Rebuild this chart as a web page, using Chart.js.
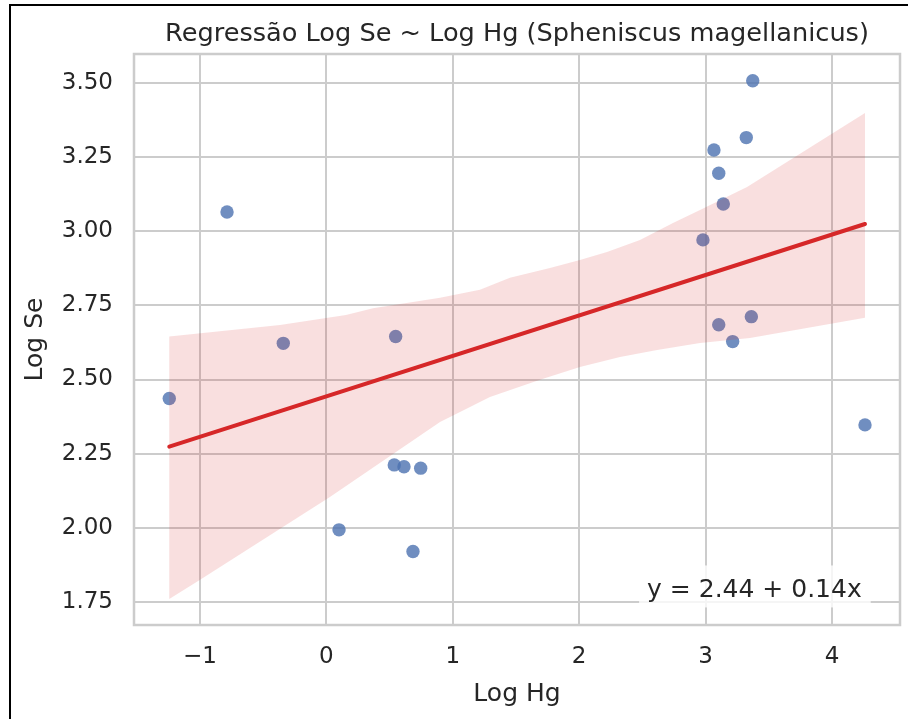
<!DOCTYPE html>
<html>
<head>
<meta charset="utf-8">
<script src="https://cdn.jsdelivr.net/npm/chart.js@4/dist/chart.umd.min.js"></script>
<style>
html,body{margin:0;padding:0;background:#fff;}
#wrap{position:relative;width:908px;height:719px;overflow:hidden;background:#fff;}
#c{position:absolute;left:0;top:0;}
#frame{position:absolute;left:9px;top:4px;width:1000px;height:1000px;border-top:2px solid #000;border-left:2px solid #000;pointer-events:none;}
</style>
</head>
<body>
<div id="wrap"><canvas id="c" width="908" height="719"></canvas><div id="frame"></div></div>
<script>
// ---- data ----
const logHg = [3.373, 3.322, 3.066, 3.104, 3.140, 2.979, 3.362, 3.104, 3.214, 4.261,
               -0.786, -0.341, 0.548, -1.243, 0.537, 0.614, 0.746, 0.100, 0.685];
const logSe = [3.508, 3.316, 3.274, 3.196, 3.092, 2.971, 2.712, 2.685, 2.628, 2.347,
               3.065, 2.622, 2.645, 2.436, 2.212, 2.206, 2.201, 1.993, 1.920];

// confidence band edges (bootstrap CI as drawn)
const bandUpperX = [-1.243, -0.367, 0.155, 0.369, 0.899, 1.215, 1.452, 1.769, 2.006, 2.220, 2.481, 2.742, 2.956, 3.328, 4.261];
const bandUpperY = [2.645, 2.684, 2.718, 2.740, 2.776, 2.803, 2.843, 2.876, 2.903, 2.930, 2.971, 3.028, 3.072, 3.149, 3.399];
const bandLowerX = [-1.243, -1.002, 0.028, 0.899, 1.294, 1.690, 2.006, 2.323, 2.616, 2.956, 3.351, 4.261];
const bandLowerY = [1.760, 1.824, 2.104, 2.357, 2.441, 2.499, 2.542, 2.576, 2.600, 2.623, 2.640, 2.708];

const xTicks = [-1, 0, 1, 2, 3, 4];
const xTickLabels = ['\u22121', '0', '1', '2', '3', '4'];
const yTicks = [1.75, 2.00, 2.25, 2.50, 2.75, 3.00, 3.25, 3.50];
const yTickLabels = ['1.75', '2.00', '2.25', '2.50', '2.75', '3.00', '3.25', '3.50'];
const xRange = [-1.522, 4.538];
const yRange = [1.672, 3.598];

const titleText = 'Regress\u00e3o Log Se ~ Log Hg (Spheniscus magellanicus)';
const xLabel = 'Log Hg';
const yLabel = 'Log Se';

// ---- ordinary least squares fit from the points ----
const n = logHg.length;
const mx = logHg.reduce((a, b) => a + b, 0) / n;
const my = logSe.reduce((a, b) => a + b, 0) / n;
let sxy = 0, sxx = 0;
for (let i = 0; i < n; i++) { sxy += (logHg[i] - mx) * (logSe[i] - my); sxx += (logHg[i] - mx) ** 2; }
const slope = sxy / sxx;
const intercept = my - slope * mx;
const xMin = Math.min(...logHg), xMax = Math.max(...logHg);
const fitLine = [{x: xMin, y: intercept + slope * xMin}, {x: xMax, y: intercept + slope * xMax}];
const eqText = 'y = ' + intercept.toFixed(2) + ' + ' + slope.toFixed(2) + 'x';

const bandPoly = bandUpperX.map((x, i) => ({x, y: bandUpperY[i]}))
  .concat(bandLowerX.map((x, i) => ({x, y: bandLowerY[i]})).reverse());
const scatterPts = logHg.map((x, i) => ({x, y: logSe[i]}));

const FONT = 'DejaVu Sans';
const TXT = '#262626';
Chart.defaults.font.family = FONT;
Chart.defaults.color = TXT;

const framePlugin = {
  id: 'frameAndEq',
  afterDatasetsDraw(chart) {
    const {ctx, chartArea: a} = chart;
    ctx.save();
    // spines
    ctx.strokeStyle = '#cccccc';
    ctx.lineWidth = 2.5;
    ctx.strokeRect(a.left, a.top, a.right - a.left, a.bottom - a.top);
    // equation box
    const w = a.right - a.left, h = a.bottom - a.top;
    const tx = a.right - 0.05 * w;
    const ty = a.bottom - 0.05 * h;
    ctx.font = '25px "' + FONT + '"';
    const tw = ctx.measureText(eqText).width;
    ctx.fillStyle = 'rgba(255,255,255,0.8)';
    ctx.fillRect(tx - tw - 8, ty - 31, tw + 17, 42);
    ctx.fillStyle = TXT;
    ctx.textAlign = 'right';
    ctx.textBaseline = 'alphabetic';
    ctx.fillText(eqText, tx, ty + 0.5);
    // title centred over the plot area
    ctx.font = '25.6px "' + FONT + '"';
    ctx.textAlign = 'center';
    ctx.textBaseline = 'middle';
    ctx.fillText(titleText, (a.left + a.right) / 2, a.top - 20);
    ctx.restore();
  }
};

new Chart(document.getElementById('c'), {
  type: 'scatter',
  data: {
    datasets: [
      {
        label: 'fit', data: fitLine, showLine: true,
        borderColor: '#d62728', borderWidth: 4, borderCapStyle: 'round',
        pointRadius: 0, fill: false
      },
      {
        label: 'ci', data: bandPoly, showLine: true,
        borderWidth: 0, borderColor: 'rgba(0,0,0,0)',
        backgroundColor: 'rgba(214,39,40,0.15)', fill: 'shape',
        pointRadius: 0, tension: 0
      },
      {
        label: 'pts', data: scatterPts,
        backgroundColor: 'rgba(76,114,176,0.8)', borderWidth: 0,
        pointRadius: 6.7
      }
    ]
  },
  options: {
    responsive: false,
    animation: false,
    events: [],
    layout: {padding: {left: 0, right: 8, top: 54, bottom: 0}},
    plugins: {
      legend: {display: false},
      tooltip: {enabled: false},
      title: {display: false}
    },
    scales: {
      x: {
        type: 'linear', min: xRange[0], max: xRange[1],
        afterBuildTicks: s => { s.ticks = xTicks.map(v => ({value: v})); },
        afterFit: s => { s.height = 94; },
        ticks: {
          autoSkip: false, maxRotation: 0, padding: 18, color: TXT,
          font: {family: FONT, size: 23},
          callback: (v, i) => xTickLabels[i]
        },
        grid: {color: '#cccccc', lineWidth: 2, drawTicks: false},
        border: {display: false},
        title: {display: true, text: xLabel, color: TXT, font: {family: FONT, size: 25}, padding: {top: 0, bottom: 10}}
      },
      y: {
        type: 'linear', min: yRange[0], max: yRange[1],
        afterBuildTicks: s => { s.ticks = yTicks.map(v => ({value: v})); },
        afterFit: s => { s.width = 134; },
        ticks: {
          autoSkip: false, padding: 21, color: TXT,
          font: {family: FONT, size: 23},
          callback: (v, i) => yTickLabels[i]
        },
        grid: {color: '#cccccc', lineWidth: 2, drawTicks: false},
        border: {display: false},
        title: {display: true, text: yLabel, color: TXT, font: {family: FONT, size: 25}, padding: {top: 20, bottom: 0}}
      }
    }
  },
  plugins: [framePlugin]
});
</script>
</body>
</html>
